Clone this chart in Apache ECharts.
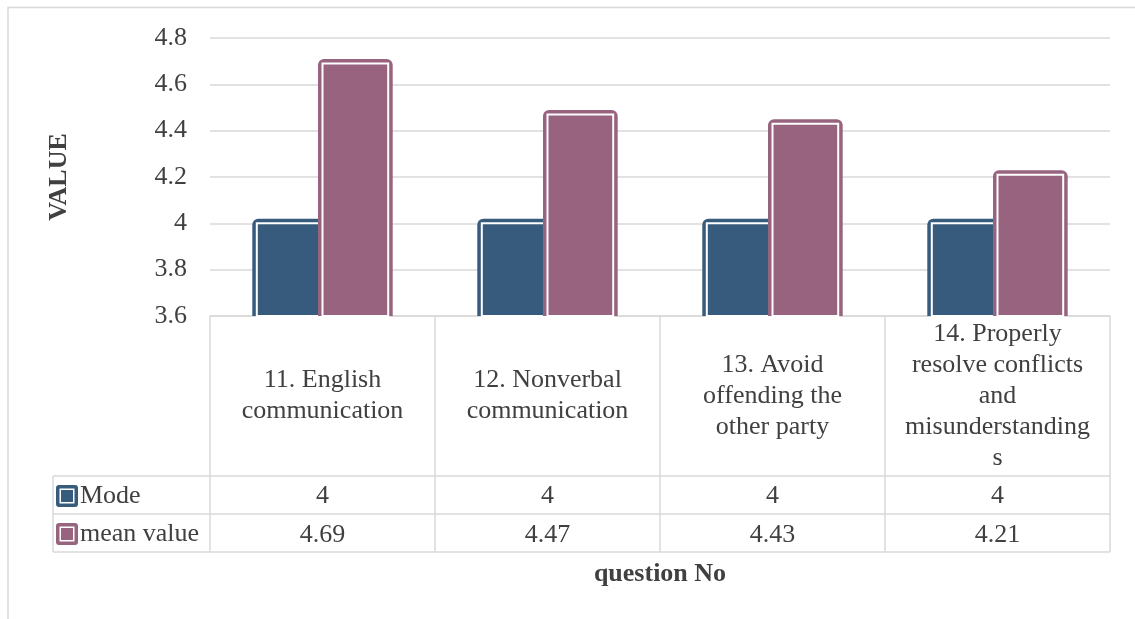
<!DOCTYPE html>
<html>
<head>
<meta charset="utf-8">
<script src="https://cdn.jsdelivr.net/npm/echarts@6/dist/echarts.min.js"></script>
<style>
html,body{margin:0;padding:0;background:#fff;}
#chart{width:1135px;height:619px;}
</style>
</head>
<body>
<div id="chart"></div>
<script>
// ---- data ----
var categories = [
  '11. English\ncommunication',
  '12. Nonverbal\ncommunication',
  '13. Avoid\noffending the\nother party',
  '14. Properly\nresolve conflicts\nand\nmisunderstanding\ns'
];
var seriesNames = ['Mode', 'mean value'];
var modeValues = [4, 4, 4, 4];
var meanValues = [4.69, 4.47, 4.43, 4.21];
var yTicks = [3.6, 3.8, 4.0, 4.2, 4.4, 4.6, 4.8];

// ---- style ----
var FONT = '"Liberation Serif", "Times New Roman", serif';
var FS = 26;
var TXT = '#404040';
var LINE = '#d9d9d9';
var colors = ['#375b7d', '#97637e'];
var Y_MIN = yTicks[0], Y_MAX = yTicks[yTicks.length - 1];

var chart = echarts.init(document.getElementById('chart'), null, {renderer: 'canvas'});

function makeRender(idx, n, color) {
  return function (params, api) {
    var cat = api.value(0), val = api.value(1);
    var top = api.coord([cat, val]);
    var base = api.coord([cat, Y_MIN]);
    var band = api.size([1, 0])[0];
    var barW = band * 0.292;
    var x = top[0] - barW * n / 2 + barW * idx;
    var h = base[1] - top[1];
    return {
      type: 'group',
      children: [
        {type: 'rect', shape: {x: x - 4.5, y: top[1] - 4.5, width: barW + 9, height: h + 4.5, r: [6, 6, 0, 0]},
         style: {fill: color}},
        {type: 'rect', shape: {x: x, y: top[1], width: barW, height: h},
         style: {fill: color, stroke: '#ffffff', lineWidth: 2}}
      ]
    };
  };
}

function toData(arr) { return arr.map(function (v, i) { return [i, v]; }); }

var keyIcon = 'path://M3,0H19Q22,0 22,3V19Q22,22 19,22H3Q0,22 0,19V3Q0,0 3,0Z M3.5,3.5V18.5H18.5V3.5Z M5,5H17V17H5Z';

var option = {
  backgroundColor: '#ffffff',
  animation: false,
  textStyle: {fontFamily: FONT},
  grid: {left: 210, right: 25, top: 38, bottom: 303, containLabel: false},
  legend: {
    orient: 'vertical', left: 56, top: 483, padding: 0,
    itemWidth: 22, itemHeight: 22, itemGap: 12,
    selectedMode: false,
    textStyle: {fontFamily: FONT, fontSize: FS, color: TXT, lineHeight: 22, padding: [0, 0, 0, -3]},
    data: [
      {name: seriesNames[0], icon: keyIcon, itemStyle: {color: colors[0]}},
      {name: seriesNames[1], icon: keyIcon, itemStyle: {color: colors[1]}}
    ]
  },
  xAxis: [
    {
      type: 'category', data: categories, position: 'bottom',
      axisLine: {show: true, lineStyle: {color: LINE, width: 1.5}},
      axisTick: {show: true, interval: 0, inside: false, length: 236, lineStyle: {color: LINE, width: 1.5}},
      axisLabel: {interval: 0, margin: 80, verticalAlign: 'middle', fontFamily: FONT, fontSize: FS,
                  lineHeight: 31, color: TXT, align: 'center'},
      name: 'question No', nameLocation: 'middle', nameGap: 258,
      nameTextStyle: {fontFamily: FONT, fontSize: FS, fontWeight: 'bold', color: TXT, verticalAlign: 'middle'}
    },
    {
      type: 'category', data: modeValues.map(String), position: 'bottom',
      axisLine: {show: false}, axisTick: {show: false}, splitLine: {show: false},
      axisLabel: {interval: 0, margin: 180, verticalAlign: 'middle', fontFamily: FONT, fontSize: FS, color: TXT}
    },
    {
      type: 'category', data: meanValues.map(String), position: 'bottom',
      axisLine: {show: false}, axisTick: {show: false}, splitLine: {show: false},
      axisLabel: {interval: 0, margin: 219, verticalAlign: 'middle', fontFamily: FONT, fontSize: FS, color: TXT}
    }
  ],
  yAxis: {
    type: 'value', min: Y_MIN, max: Y_MAX, interval: 0.2,
    axisLine: {show: false}, axisTick: {show: false},
    splitLine: {show: true, lineStyle: {color: LINE, width: 1.5}},
    axisLabel: {fontFamily: FONT, fontSize: FS, color: TXT, margin: 23,
                formatter: function (v) { return String(Math.round(v * 10) / 10); }},
    name: 'VALUE', nameLocation: 'middle', nameGap: 138, nameRotate: 90,
    nameTextStyle: {fontFamily: FONT, fontSize: FS, fontWeight: 'bold', color: TXT}
  },
  series: [
    {
      name: seriesNames[0], type: 'custom', xAxisIndex: 0, itemStyle: {color: colors[0]},
      renderItem: makeRender(0, 2, colors[0]), encode: {x: 0, y: 1}, data: toData(modeValues), z: 2
    },
    {
      name: seriesNames[1], type: 'custom', xAxisIndex: 0, itemStyle: {color: colors[1]},
      renderItem: makeRender(1, 2, colors[1]), encode: {x: 0, y: 1}, data: toData(meanValues), z: 3
    }
  ],
  graphic: [
    {type: 'rect', shape: {x: 8, y: 7.5, width: 1200, height: 700}, style: {fill: null, stroke: LINE, lineWidth: 1.5}, silent: true, z: -1},
    {type: 'line', shape: {x1: 53, y1: 476, x2: 1110, y2: 476}, style: {stroke: LINE, lineWidth: 1.5}, silent: true},
    {type: 'line', shape: {x1: 53, y1: 514, x2: 1110, y2: 514}, style: {stroke: LINE, lineWidth: 1.5}, silent: true},
    {type: 'line', shape: {x1: 53, y1: 552, x2: 1110, y2: 552}, style: {stroke: LINE, lineWidth: 1.5}, silent: true},
    {type: 'line', shape: {x1: 53, y1: 476, x2: 53, y2: 552}, style: {stroke: LINE, lineWidth: 1.5}, silent: true}
  ]
};
chart.setOption(option);
</script>
</body>
</html>
